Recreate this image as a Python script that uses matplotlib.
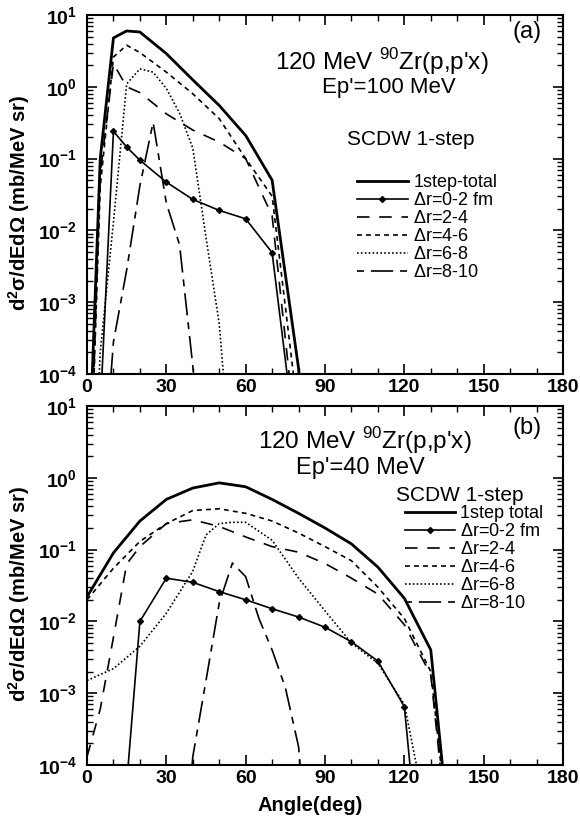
import numpy as np
import matplotlib
matplotlib.use('Agg')
import matplotlib.pyplot as plt
from matplotlib.ticker import MultipleLocator, LogLocator, FuncFormatter, NullFormatter

plt.rcParams['font.family'] = ['Liberation Sans', 'DejaVu Sans']
plt.rcParams['mathtext.fontset'] = 'custom'
plt.rcParams['mathtext.rm'] = 'Liberation Sans'
plt.rcParams['mathtext.bf'] = 'Liberation Sans:bold'
plt.rcParams['lines.scale_dashes'] = False

# (a) Ep' = 100 MeV
tot_a_ang = [0, 5, 10, 15, 20, 30, 40, 50, 60, 70, 80, 85]
tot_a = [1e-6, 0.1, 4.8, 6.0, 5.8, 2.9, 1.25, 0.55, 0.21, 0.05, 1.2e-4, 1e-7]
r02_a_ang = [0, 5, 10, 15, 20, 30, 40, 50, 60, 70, 80]
r02_a = [1e-9, 3e-5, 0.24, 0.145, 0.095, 0.047, 0.027, 0.019, 0.0145, 0.0049, 5e-6]
r24_a_ang = [0, 5, 10, 15, 20, 30, 40, 50, 60, 70, 80]
r24_a = [1e-7, 0.06, 2.1, 1.0, 0.83, 0.42, 0.25, 0.17, 0.1, 0.016, 6e-6]
r46_a_ang = [0, 5, 10, 15, 20, 30, 40, 50, 60, 70, 80]
r46_a = [1e-7, 0.04, 2.6, 3.8, 3.0, 1.6, 0.8, 0.36, 0.1, 0.03, 2.5e-5]
r68_a_ang = [0, 5, 10, 15, 20, 25, 30, 35, 40, 45, 50, 55]
r68_a = [1e-8, 2e-4, 0.013, 1.1, 1.78, 1.6, 0.95, 0.43, 0.14, 8e-3, 5e-4, 3e-6]
r810_a_ang = [5, 10, 15, 20, 25, 30, 35, 40, 45]
r810_a = [1e-6, 2.8e-4, 2.8e-3, 0.042, 0.32, 0.024, 6.3e-3, 1.3e-4, 1e-6]

# (b) Ep' = 40 MeV
tot_b_ang = [0, 10, 20, 30, 40, 50, 60, 70, 80, 90, 100, 110, 120, 130, 135]
tot_b = [0.022, 0.09, 0.25, 0.5, 0.72, 0.85, 0.75, 0.5, 0.32, 0.2, 0.12, 0.057, 0.021, 0.004, 6e-5]
r02_b_ang = [0, 10, 20, 30, 40, 50, 60, 70, 80, 90, 100, 110, 120, 130]
r02_b = [1e-9, 3e-7, 0.01, 0.04, 0.035, 0.026, 0.02, 0.015, 0.0115, 0.0083, 0.0052, 0.0028, 6.5e-4, 1e-7]
r24_b_ang = [0, 5, 10, 15, 20, 30, 40, 50, 60, 70, 80, 90, 100, 110, 120, 130, 135]
r24_b = [1.3e-4, 6e-4, 6e-3, 0.063, 0.11, 0.23, 0.26, 0.21, 0.15, 0.11, 0.092, 0.064, 0.04, 0.024, 0.009, 0.0018, 3e-5]
r46_b_ang = [0, 10, 20, 30, 40, 50, 60, 70, 80, 90, 100, 110, 120, 130, 135]
r46_b = [0.02, 0.055, 0.13, 0.23, 0.35, 0.37, 0.32, 0.25, 0.17, 0.11, 0.07, 0.03, 0.011, 0.002, 4e-5]
r68_b_ang = [0, 10, 20, 30, 40, 45, 50, 55, 60, 70, 80, 90, 100, 110, 120, 130]
r68_b = [1.5e-3, 2.2e-3, 4.5e-3, 0.013, 0.05, 0.16, 0.23, 0.24, 0.24, 0.135, 0.04, 0.014, 5e-3, 2.6e-3, 7e-4, 1e-5]
r810_b_ang = [35, 40, 45, 50, 55, 60, 65, 70, 75, 80, 85]
r810_b = [1e-6, 1.3e-4, 1.5e-3, 0.018, 0.065, 0.042, 0.011, 4e-3, 1.2e-3, 1.8e-4, 1e-6]

labels_a = ['1step-total', r'$\Delta$r=0-2 fm', r'$\Delta$r=2-4', r'$\Delta$r=4-6', r'$\Delta$r=6-8', r'$\Delta$r=8-10']
labels_b = ['1step total'] + labels_a[1:]

styles = [
    dict(color='k', lw=2.0, ls='-'),
    dict(color='k', lw=1.2, ls='-', marker='D', ms=3),
    dict(color='k', lw=1.2, ls=(0, (9, 7))),
    dict(color='k', lw=1.2, ls=(0, (3.5, 3))),
    dict(color='k', lw=1.2, ls=(0, (1.2, 1.6))),
    dict(color='k', lw=1.2, ls=(0, (5, 5, 16, 5))),
]

fig = plt.figure(figsize=(5.8, 8.21), dpi=100)
ax_a = fig.add_axes([0.15, 0.5445, 0.8207, 0.4372])
ax_b = fig.add_axes([0.15, 0.0682, 0.8207, 0.4373])


def decade_label(v, pos):
    return r'$\mathbf{10^{%d}}$' % int(round(np.log10(v)))


def draw_panel(ax, curves, mark_range):
    handles = []
    for i, ((x, y), st) in enumerate(zip(curves, styles)):
        kw = dict(st)
        if i == 1:
            kw['markevery'] = mark_range
        h, = ax.plot(x, y, **kw)
        handles.append(h)
    ax.set_yscale('log')
    ax.set_xlim(0, 180)
    ax.set_ylim(1e-4, 10)
    ax.xaxis.set_major_locator(MultipleLocator(30))
    ax.xaxis.set_minor_locator(MultipleLocator(10))
    ax.yaxis.set_major_locator(LogLocator(base=10, numticks=10))
    ax.yaxis.set_minor_locator(LogLocator(base=10, subs=np.arange(2, 10), numticks=10))
    ax.yaxis.set_major_formatter(FuncFormatter(decade_label))
    ax.yaxis.set_minor_formatter(NullFormatter())
    ax.tick_params(which='both', direction='in', top=True, right=True, labelsize=14)
    ax.tick_params(which='major', length=7, width=1.2)
    ax.tick_params(axis='y', which='major', pad=7)
    ax.tick_params(which='minor', length=4, width=1.0)
    for lab in ax.get_xticklabels():
        lab.set_fontweight('bold')
    for s in ax.spines.values():
        s.set_linewidth(1.5)
    ax.set_ylabel(r'd$^{\mathbf{2}}$σ/dEdΩ (mb/MeV sr)', fontsize=14.5, fontweight='bold')
    ax.yaxis.set_label_coords(-0.115, 0.476)
    return handles


h_a = draw_panel(ax_a, [(tot_a_ang, tot_a), (r02_a_ang, r02_a), (r24_a_ang, r24_a),
                        (r46_a_ang, r46_a), (r68_a_ang, r68_a), (r810_a_ang, r810_a)],
                 list(range(2, 10)))
h_b = draw_panel(ax_b, [(tot_b_ang, tot_b), (r02_b_ang, r02_b), (r24_b_ang, r24_b),
                        (r46_b_ang, r46_b), (r68_b_ang, r68_b), (r810_b_ang, r810_b)],
                 list(range(2, 13)))

ax_b.set_xlabel('Angle(deg)', fontsize=14.5, fontweight='bold')
ax_b.xaxis.set_label_coords(0.468, -0.085)

# panel (a) annotations
ax_a.text(0.62, 0.869, "120 MeV $^{90}$Zr(p,p'x)", transform=ax_a.transAxes,
          ha='center', va='center', fontsize=17.5)
ax_a.text(0.635, 0.797, "Ep'=100 MeV", transform=ax_a.transAxes,
          ha='center', va='center', fontsize=16)
ax_a.text(0.956, 0.953, '(a)', transform=ax_a.transAxes, ha='right', va='center', fontsize=17)
ax_a.text(0.68, 0.652, 'SCDW 1-step', transform=ax_a.transAxes, ha='center', va='center', fontsize=15)
ax_a.legend(h_a, labels_a, loc='upper left', bbox_to_anchor=(0.567, 0.556), frameon=False,
            fontsize=13, handlelength=2.82, handletextpad=0.3, labelspacing=0.05,
            borderpad=0, borderaxespad=0)

# panel (b) annotations
ax_b.text(0.584, 0.905, "120 MeV $^{90}$Zr(p,p'x)", transform=ax_b.transAxes,
          ha='center', va='center', fontsize=17.5)
ax_b.text(0.574, 0.827, "Ep'=40 MeV", transform=ax_b.transAxes,
          ha='center', va='center', fontsize=17)
ax_b.text(0.956, 0.94, '(b)', transform=ax_b.transAxes, ha='right', va='center', fontsize=17)
ax_b.text(0.784, 0.752, 'SCDW 1-step', transform=ax_b.transAxes, ha='center', va='center', fontsize=15)
ax_b.legend(h_b, labels_b, loc='upper left', bbox_to_anchor=(0.668, 0.7234), frameon=False,
            fontsize=13, handlelength=2.77, handletextpad=0.3, labelspacing=0.055,
            borderpad=0, borderaxespad=0)

fig.savefig('out.png', dpi=100)
